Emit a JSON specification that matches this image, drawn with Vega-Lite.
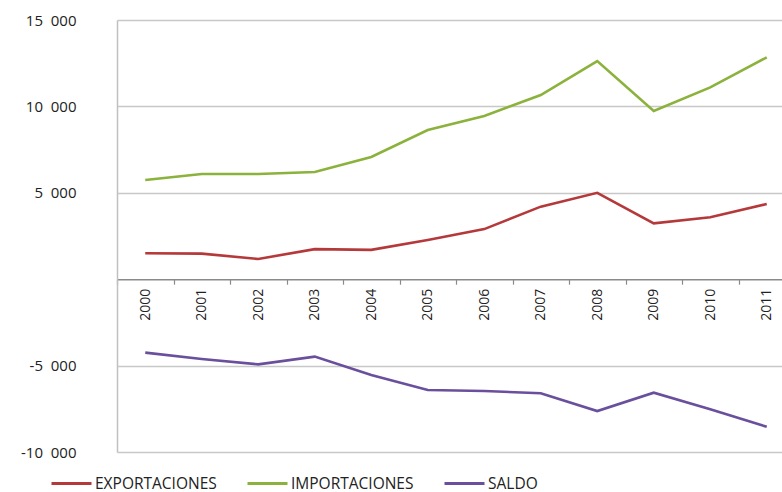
{
  "$schema": "https://vega.github.io/schema/vega-lite/v6.json",
  "width": 678,
  "height": 432,
  "autosize": {"type": "none"},
  "padding": {"left": 117, "top": 20, "right": 0, "bottom": 40},
  "background": "white",
  "config": {"view": {"stroke": null}, "font": "Open Sans"},
  "data": {
    "values": [
      {"year": "2000", "serie": "EXPORTACIONES", "valor": 1500},
      {"year": "2001", "serie": "EXPORTACIONES", "valor": 1480},
      {"year": "2002", "serie": "EXPORTACIONES", "valor": 1170},
      {"year": "2003", "serie": "EXPORTACIONES", "valor": 1740},
      {"year": "2004", "serie": "EXPORTACIONES", "valor": 1700},
      {"year": "2005", "serie": "EXPORTACIONES", "valor": 2270},
      {"year": "2006", "serie": "EXPORTACIONES", "valor": 2900},
      {"year": "2007", "serie": "EXPORTACIONES", "valor": 4200},
      {"year": "2008", "serie": "EXPORTACIONES", "valor": 5000},
      {"year": "2009", "serie": "EXPORTACIONES", "valor": 3230},
      {"year": "2010", "serie": "EXPORTACIONES", "valor": 3580},
      {"year": "2011", "serie": "EXPORTACIONES", "valor": 4350},
      {"year": "2000", "serie": "IMPORTACIONES", "valor": 5740},
      {"year": "2001", "serie": "IMPORTACIONES", "valor": 6090},
      {"year": "2002", "serie": "IMPORTACIONES", "valor": 6090},
      {"year": "2003", "serie": "IMPORTACIONES", "valor": 6200},
      {"year": "2004", "serie": "IMPORTACIONES", "valor": 7070},
      {"year": "2005", "serie": "IMPORTACIONES", "valor": 8630},
      {"year": "2006", "serie": "IMPORTACIONES", "valor": 9440},
      {"year": "2007", "serie": "IMPORTACIONES", "valor": 10660},
      {"year": "2008", "serie": "IMPORTACIONES", "valor": 12620},
      {"year": "2009", "serie": "IMPORTACIONES", "valor": 9730},
      {"year": "2010", "serie": "IMPORTACIONES", "valor": 11100},
      {"year": "2011", "serie": "IMPORTACIONES", "valor": 12840},
      {"year": "2000", "serie": "SALDO", "valor": -4250},
      {"year": "2001", "serie": "SALDO", "valor": -4620},
      {"year": "2002", "serie": "SALDO", "valor": -4930},
      {"year": "2003", "serie": "SALDO", "valor": -4480},
      {"year": "2004", "serie": "SALDO", "valor": -5540},
      {"year": "2005", "serie": "SALDO", "valor": -6410},
      {"year": "2006", "serie": "SALDO", "valor": -6470},
      {"year": "2007", "serie": "SALDO", "valor": -6600},
      {"year": "2008", "serie": "SALDO", "valor": -7630},
      {"year": "2009", "serie": "SALDO", "valor": -6570},
      {"year": "2010", "serie": "SALDO", "valor": -7530},
      {"year": "2011", "serie": "SALDO", "valor": -8540}
    ]
  },
  "encoding": {
    "y": {
      "field": "valor",
      "type": "quantitative",
      "scale": {"domain": [-10000, 15000], "nice": false},
      "axis": {
        "title": null,
        "values": [-10000, -5000, 5000, 10000, 15000],
        "labelExpr": "replace(replace(format(datum.value, ','), ',', '\u00a0\u00a0'), '\u2212', '-')",
        "labelFontSize": 15,
        "labelColor": "#222",
        "labelPadding": 41,
        "ticks": false,
        "domain": true,
        "domainColor": "#c0c0c0",
        "domainWidth": 1.5,
        "grid": true,
        "gridColor": "#c8c8c8",
        "gridWidth": 1.5
      }
    }
  },
  "layer": [
    {
      "mark": {"type": "line", "strokeWidth": 2.6},
      "encoding": {
        "x": {
          "field": "year",
          "type": "ordinal",
          "scale": {"type": "point", "padding": 0.5},
          "axis": {
            "title": null,
            "orient": "bottom",
            "offset": -172.8,
            "labelAngle": -90,
            "labelFontSize": 14,
            "labelColor": "#222",
            "labelPadding": 9,
            "domain": false,
            "ticks": false,
            "grid": false
          }
        },
        "color": {
          "field": "serie",
          "type": "nominal",
          "scale": {
            "domain": ["EXPORTACIONES", "IMPORTACIONES", "SALDO"],
            "range": ["#b5393a", "#8bb23c", "#6a4f9d"]
          },
          "legend": {
            "title": null,
            "orient": "none",
            "direction": "horizontal",
            "legendX": -67,
            "legendY": 442,
            "symbolType": "stroke",
            "symbolSize": 1600,
            "symbolStrokeWidth": 3,
            "labelFontSize": 15.5,
            "labelColor": "#222",
            "labelOffset": 2,
            "columnPadding": 24
          }
        }
      }
    },
    {
      "mark": {"type": "line", "opacity": 0},
      "encoding": {
        "x": {
          "field": "year",
          "type": "ordinal",
          "scale": {"type": "point", "padding": 0.5},
          "axis": {
            "title": null,
            "orient": "bottom",
            "offset": -172.8,
            "labels": false,
            "domainColor": "#8a8a8a",
            "domainWidth": 1.5,
            "tickColor": "#8a8a8a",
            "tickSize": 5,
            "tickWidth": 1.2,
            "tickOffset": -28.25,
            "grid": false
          }
        },
        "detail": {"field": "serie"}
      }
    }
  ],
  "resolve": {"scale": {"x": "independent"}}
}
